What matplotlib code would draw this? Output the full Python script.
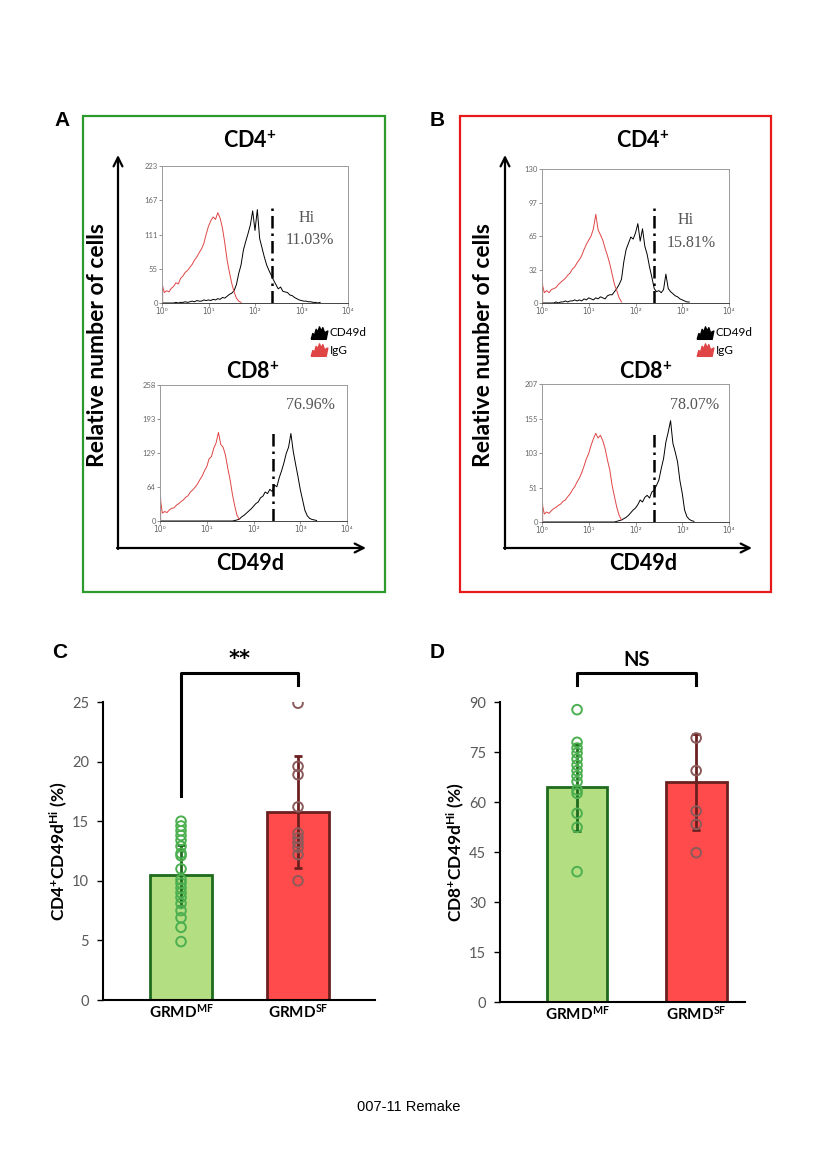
import numpy as np
import matplotlib
matplotlib.use("Agg")
import matplotlib.pyplot as plt
from matplotlib.path import Path
from matplotlib.patches import Rectangle

plt.rcParams['font.family'] = ['Lato', 'DejaVu Sans']
plt.rcParams['mathtext.fontset'] = 'custom'
plt.rcParams['mathtext.rm'] = 'Lato'
plt.rcParams['mathtext.bf'] = 'Lato:bold'
plt.rcParams['mathtext.it'] = 'Lato:italic'

W, H = 819, 1168

# ---- flow histograms: counts read every 0.05 decade starting at 10^0 ----
STEP = 0.05
a_cd4_igg = [30, 17, 20, 18, 24, 27, 33, 31, 40, 44, 50, 53, 58, 63, 70, 75, 82, 88, 97, 112,
             125, 134, 140, 136, 147, 138, 122, 98, 70, 50, 32, 18, 8, 3, 1]
a_cd4_cd49d = [0, 0, 0, 0, 0, 0, 1, 0, 1, 1, 2, 1, 2, 3, 2, 4, 3, 3, 5, 4,
               5, 4, 6, 5, 7, 6, 9, 8, 11, 14, 16, 20, 30, 48, 62, 86, 100, 113, 127, 150,
               118, 152, 105, 90, 75, 62, 53, 45, 37, 30, 23, 26, 19, 18, 17, 13, 12, 9, 7, 5,
               4, 3, 3, 2, 2, 1, 1, 0, 1]
a_cd8_igg = [46, 15, 18, 16, 21, 24, 25, 30, 33, 37, 40, 45, 48, 55, 59, 64, 70, 78, 85, 95,
             103, 118, 122, 138, 148, 168, 145, 140, 125, 100, 78, 50, 28, 10, 3]
a_cd8_cd49d = [0] * 32 + [1, 2, 4, 8, 11, 15, 19, 23, 28, 33, 36, 44, 47, 55, 52, 60, 56, 68,
                          65, 82, 95, 110, 128, 140, 166, 132, 108, 85, 60, 40, 20, 10, 5, 3, 2, 1]
b_cd4_igg = [19, 10, 12, 10, 13, 14, 15, 18, 20, 22, 24, 27, 29, 33, 35, 39, 42, 46, 52, 57,
             61, 65, 72, 86, 71, 66, 61, 53, 46, 38, 28, 18, 12, 5, 1]
b_cd4_cd49d = [0, 0, 0, 0, 0, 0, 1, 0, 1, 1, 2, 1, 2, 2, 3, 2, 3, 2, 4, 3,
               5, 4, 3, 5, 4, 6, 5, 4, 7, 8, 8, 11, 14, 18, 23, 40, 52, 58, 64, 62,
               68, 77, 60, 72, 55, 47, 35, 25, 14, 11, 12, 10, 13, 28, 14, 11, 9, 7, 6, 4,
               3, 2, 1, 1]
b_cd8_igg = [28, 12, 15, 13, 17, 20, 22, 25, 27, 31, 33, 38, 42, 48, 53, 60, 66, 74, 84, 95,
             103, 115, 125, 133, 126, 130, 122, 110, 93, 78, 55, 38, 22, 10, 3]
b_cd8_cd49d = [0] * 32 + [1, 2, 3, 5, 7, 10, 14, 18, 21, 26, 33, 30, 37, 40, 36, 45, 48, 55,
                          63, 80, 95, 120, 135, 152, 118, 105, 90, 62, 43, 18, 8, 4, 2, 1]

hist_yticks = {
    'a4': [0, 55, 111, 167, 223],
    'a8': [0, 64, 129, 193, 258],
    'b4': [0, 32, 65, 97, 130],
    'b8': [0, 51, 103, 155, 207],
}
gate_log = {'a4': 2.37, 'a8': 2.42, 'b4': 2.40, 'b8': 2.40}
hi_pct = {'a4': '11.03%', 'a8': '76.96%', 'b4': '15.81%', 'b8': '78.07%'}
decade_labels = ['10⁰', '10¹', '10²', '10³', '10⁴']

# ---- bar charts ----
groups = ['GRMD$^{\\mathbf{MF}}$', 'GRMD$^{\\mathbf{SF}}$']
c_mf_points = [15.0, 14.6, 14.2, 13.8, 13.4, 12.9, 12.3, 12.1, 11.0, 10.1, 9.8, 9.4, 9.0, 8.6,
               8.1, 7.5, 6.9, 6.1, 4.9]
c_sf_points = [24.9, 19.6, 18.9, 16.2, 14.0, 13.6, 13.2, 12.8, 12.2, 10.0]
c_means = [10.45, 15.8]
c_sd = [2.55, 4.7]
d_mf_points = [87.7, 77.9, 76.2, 74.7, 72.9, 71.1, 69.4, 67.8, 66.1, 63.6, 62.6, 56.6, 52.4, 39.1]
d_sf_points = [79.2, 69.4, 57.3, 53.3, 44.8]
d_means = [64.4, 66.0]
d_sd = [13.1, 14.5]

GREEN_BOX = '#2c9a2c'
RED_BOX = '#e8191b'
IGG_RED = '#e04545'
BAR_FILL = ['#b3de81', '#ff4b4b']
BAR_EDGE = ['#1e6b1e', '#6b2020']
PT_EDGE = ['#4caf50', '#8b5a5a']


def frac(l, t, r, b):
    return [l / W, 1 - b / H, (r - l) / W, (b - t) / H]


fig = plt.figure(figsize=(W / 100, H / 100), dpi=100)

# overlay in pixel coordinates for boxes, arrows and labels (kept on top)
ov = fig.add_axes([0, 0, 1, 1])
ov.set_xlim(0, W)
ov.set_ylim(H, 0)
ov.axis('off')
ov.set_zorder(10)

ov.add_patch(Rectangle((83, 116), 302, 476, fill=False, edgecolor=GREEN_BOX, lw=1.6))
ov.add_patch(Rectangle((460, 116), 311, 476, fill=False, edgecolor=RED_BOX, lw=1.6))

for x0, x1, cx_title, cx_rel in [(118, 366, 250, 97), (505, 752, 643, 484)]:
    ov.annotate('', xy=(x0, 155), xytext=(x0, 549),
                arrowprops=dict(arrowstyle='->', lw=1.6, color='k', mutation_scale=16,
                                shrinkA=0, shrinkB=0))
    ov.annotate('', xy=(x1, 548), xytext=(x0 - 1, 548),
                arrowprops=dict(arrowstyle='->', lw=1.6, color='k', mutation_scale=16,
                                shrinkA=0, shrinkB=0))
    ov.text(cx_rel, 345, 'Relative number of cells', rotation=90, ha='center', va='center',
            fontsize=16.5, fontweight='bold')
    ov.text(cx_title, 563, 'CD49d', ha='center', va='center', fontsize=15.5, fontweight='bold')
    ov.text(cx_title, 141, 'CD4$^{\\mathbf{+}}$', ha='center', va='center', fontsize=15.5,
            fontweight='bold')
    ov.text(cx_title + 3, 372, 'CD8$^{\\mathbf{+}}$', ha='center', va='center', fontsize=15.5,
            fontweight='bold')

for s, x, y in [('A', 62, 121), ('B', 437, 121), ('C', 60, 652), ('D', 437, 652)]:
    ov.text(x, y, s, ha='center', va='center', fontsize=15, fontweight='bold',
            family='Liberation Sans')

# jagged legend glyph
glyph = Path([(-1, -0.7), (-0.8, 0.0), (-0.6, -0.2), (-0.4, 0.5), (-0.2, 0.2), (0.0, 0.8),
              (0.2, 0.3), (0.4, 0.7), (0.6, 0.1), (1.0, 0.3), (0.8, -0.7), (-1, -0.7)])
for xi, xt in [(319, 330), (705, 716)]:
    ov.plot([xi], [333], marker=glyph, markersize=12, color='k', mec='k')
    ov.plot([xi], [350], marker=glyph, markersize=12, color=IGG_RED, mec=IGG_RED)
    ov.text(xt, 332, 'CD49d', ha='left', va='center', fontsize=8.5)
    ov.text(xt, 350, 'IgG', ha='left', va='center', fontsize=8.5)

hist_specs = [
    ('a4', (162, 166, 348, 303), a_cd4_igg, a_cd4_cd49d, 0.71, (307, 218), (310, 240)),
    ('a8', (160, 385, 347, 521), a_cd8_igg, a_cd8_cd49d, 0.67, None, (310, 405)),
    ('b4', (542, 169, 729, 303), b_cd4_igg, b_cd4_cd49d, 0.73, (686, 220), (691, 243)),
    ('b8', (542, 384, 729, 522), b_cd8_igg, b_cd8_cd49d, 0.66, None, (695, 405)),
]
for key, box, igg, cd49d, gate_h, hi_xy, pct_xy in hist_specs:
    ax = fig.add_axes(frac(*box))
    ymax = hist_yticks[key][-1]
    x_igg = 10 ** (np.arange(len(igg)) * STEP)
    x_cd = 10 ** (np.arange(len(cd49d)) * STEP)
    ax.plot(x_cd, cd49d, color='k', lw=0.7)
    ax.plot(x_igg, igg, color=IGG_RED, lw=0.7)
    ax.vlines(x_igg[0], 0, igg[0], color=IGG_RED, lw=0.9)
    ax.plot([10 ** gate_log[key]] * 2, [0, gate_h * ymax], color='k', lw=1.8,
            ls=(0, (5, 2, 1, 2)))
    ax.set_xscale('log')
    ax.set_xlim(1, 1e4)
    ax.set_ylim(0, ymax)
    ax.set_xticks([1, 10, 100, 1000, 10000])
    ax.set_xticklabels(decade_labels, family='DejaVu Sans')
    ax.xaxis.set_minor_locator(matplotlib.ticker.NullLocator())
    ax.set_yticks(hist_yticks[key])
    ax.tick_params(labelsize=5.5, colors='#666666', length=2, width=0.5, pad=1)
    for sp in ax.spines.values():
        sp.set_color('#9a9a9a')
        sp.set_linewidth(0.7)
    ax.spines['bottom'].set_color('#444444')
    if hi_xy is not None:
        ov.text(*hi_xy, 'Hi', ha='center', va='center', fontsize=11.5,
                family='Liberation Serif', color='#555555')
    ov.text(*pct_xy, hi_pct[key], ha='center', va='center', fontsize=11.5,
            family='Liberation Serif', color='#555555')

# ---- bar panels ----
bar_specs = [
    ((103, 702, 375, 1000), (-0.667, 1.658), 0.53, 25, [0, 5, 10, 15, 20, 25],
     [c_mf_points, c_sf_points], c_means, c_sd, 'CD4$^{\\mathbf{+}}$CD49d$^{\\mathbf{Hi}}$ (%)',
     '**', (27.4, 17.1, 26.4), 28.6),
    ((500, 702, 745, 1002), (-0.647, 1.41), 0.51, 90, [0, 15, 30, 45, 60, 75, 90],
     [d_mf_points, d_sf_points], d_means, d_sd, 'CD8$^{\\mathbf{+}}$CD49d$^{\\mathbf{Hi}}$ (%)',
     'NS', (98.8, 95.2, 95.2), 102.6),
]
for box, xl, bw, ytop, yt, pts, means, sds, ylab, sig, brk, sig_y in bar_specs:
    ax = fig.add_axes(frac(*box))
    xs = np.arange(2)
    ax.bar(xs, means, width=bw, color=BAR_FILL, edgecolor=BAR_EDGE, linewidth=2, zorder=1)
    for i in range(2):
        ax.errorbar(xs[i], means[i], yerr=sds[i], color=BAR_EDGE[i], lw=2, capsize=3,
                    capthick=2, zorder=2)
        ax.scatter(np.full(len(pts[i]), xs[i]), pts[i], s=48, facecolors='none',
                   edgecolors=PT_EDGE[i], linewidths=1.4, zorder=3)
    ax.set_xlim(*xl)
    ax.set_ylim(0, ytop)
    ax.set_yticks(yt)
    ax.set_xticks(xs)
    ax.set_xticklabels(groups, fontsize=11, fontweight='bold')
    ax.tick_params(axis='x', length=0, pad=2)
    ax.tick_params(axis='y', labelsize=10.5, labelcolor='#595959', length=4, width=1, pad=6)
    for sp in ['top', 'right']:
        ax.spines[sp].set_visible(False)
    for sp in ['left', 'bottom']:
        ax.spines[sp].set_linewidth(1.5)
    ax.set_ylabel(ylab, fontsize=12.5, fontweight='bold', labelpad=2)
    ax.plot([0, 0, 1, 1], [brk[1], brk[0], brk[0], brk[2]], color='k', lw=2.2,
            clip_on=False)
    if sig == '**':
        ax.text(0.5, sig_y, sig, ha='center', va='center', fontsize=15, fontweight='bold',
                family='DejaVu Sans')
    else:
        ax.text(0.5, sig_y, sig, ha='center', va='center', fontsize=14.5, fontweight='bold')

fig.text(409 / W, 1 - 1107 / H, '007-11 Remake', ha='center', va='center', fontsize=10.5,
         family='Liberation Sans')

fig.savefig('out.png', dpi=100)
